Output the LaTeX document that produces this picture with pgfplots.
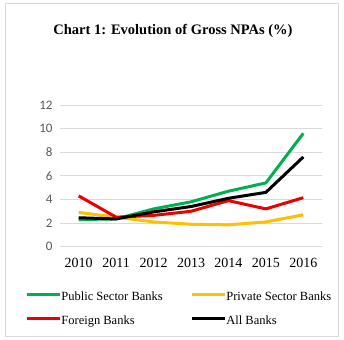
\documentclass[border=0pt]{standalone}
\usepackage{pgfplots}
\pgfplotsset{compat=1.18}
\usepackage{fontspec}
\setmainfont{Liberation Serif}
\newfontfamily\calibri{Carlito}
\definecolor{psb}{RGB}{0,176,80}
\definecolor{pvt}{RGB}{255,192,0}
\definecolor{frn}{RGB}{235,0,0}
\definecolor{gridc}{RGB}{217,217,217}
\definecolor{tickc}{RGB}{89,89,89}
\begin{document}
\begin{tikzpicture}[x=1pt,y=1pt]
\path (0,0) rectangle (344,339);
\draw[gridc, line width=0.8pt] (5,3) rectangle (338,336);
\node[font=\bfseries\fontsize{14.5}{16}\selectfont] at (173,308) {Chart 1: Evolution of Gross NPAs (\%)};
\begin{axis}[
  at={(60pt,92.3pt)}, anchor=south west,
  width=262pt, height=141.7pt, scale only axis,
  xmin=-0.5, xmax=6.5, ymin=0, ymax=12,
  xtick={0,1,2,3,4,5,6},
  xticklabels={2010,2011,2012,2013,2014,2015,2016},
  ytick={0,2,4,6,8,10,12},
  axis line style={draw=none},
  tick style={draw=none},
  ymajorgrids, grid style={gridc, line width=0.8pt},
  /pgf/number format/assume math mode=true,
  yticklabel style={font=\calibri\fontsize{13}{13}\selectfont, text=tickc, xshift=-4pt},
  xticklabel style={font=\fontsize{14}{14}\selectfont, yshift=-8pt},
  legend columns=2,
  legend style={at={(axis description cs:-0.134,-0.306)}, anchor=north west,
    draw=none, fill=none, inner sep=0pt, font=\fontsize{12.5}{14}\selectfont,
    nodes={inner xsep=0.3pt, inner ysep=1pt, text height=9pt, text depth=3pt},
    cells={anchor=west}, row sep=10.3pt,
    /tikz/every even column/.append style={column sep=27pt}},
  legend image code/.code={\draw[#1] (0pt,3pt) -- (33pt,3pt);},
  every axis plot/.append style={line width=3pt, line join=round},
]
\addplot[psb] coordinates {(0,2.3) (1,2.35) (2,3.2) (3,3.8) (4,4.7) (5,5.4) (6,9.6)};
\addlegendentry{Public Sector Banks}
\addplot[pvt] coordinates {(0,2.9) (1,2.5) (2,2.1) (3,1.9) (4,1.85) (5,2.1) (6,2.7)};
\addlegendentry{Private Sector Banks}
\addplot[frn] coordinates {(0,4.3) (1,2.5) (2,2.65) (3,3.0) (4,3.9) (5,3.2) (6,4.15)};
\addlegendentry{Foreign Banks}
\addplot[black] coordinates {(0,2.45) (1,2.35) (2,2.95) (3,3.4) (4,4.1) (5,4.6) (6,7.6)};
\addlegendentry{All Banks}
\end{axis}
\end{tikzpicture}
\end{document}
